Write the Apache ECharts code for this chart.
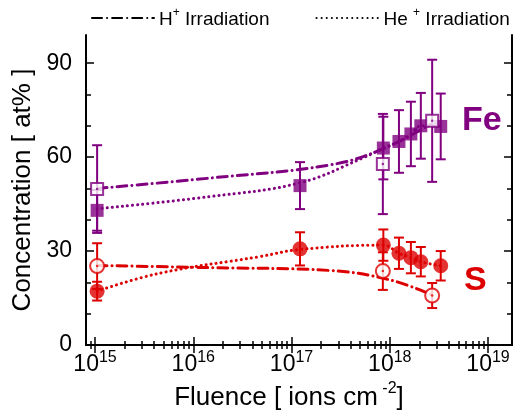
<!DOCTYPE html>
<html>
<head>
<meta charset="utf-8">
<script src="https://cdn.jsdelivr.net/npm/echarts@6/dist/echarts.min.js"></script>
<style>
  html, body { margin: 0; padding: 0; background: #fff; }
  #chart { width: 517px; height: 419px; }
</style>
</head>
<body>
<div id="chart"></div>
<script>
// decades shown on the x axis (exponents of 10)
const decades = [15, 16, 17, 18, 19]
const yTicks = [0, 30, 60, 90]
const yMinorTicks = [10, 20, 40, 50, 70, 80]

// Fe, H+ irradiation (open squares)
const feHFluence = [1.05e15, 8.5e17, 2.7e18]
const feHConc = [49.8, 57.8, 71.6]
const feHErr = [14, 16, 19.5]
// Fe, He+ irradiation (filled squares)
const feHeFluence = [1.05e15, 1.22e17, 8.6e17, 1.24e18, 1.64e18, 2.07e18, 3.3e18]
const feHeConc = [43, 50.9, 62.9, 65, 67.4, 70, 69.8]
const feHeErr = [6.5, 7.5, 10, 10, 10.3, 10.5, 10.5]
// S, H+ irradiation (open circles)
const sHFluence = [1.05e15, 8.5e17, 2.7e18]
const sHConc = [25.2, 23.6, 15.8]
const sHErr = [7.3, 6, 4]
// S, He+ irradiation (filled circles)
const sHeFluence = [1.05e15, 1.22e17, 8.6e17, 1.24e18, 1.64e18, 2.07e18, 3.3e18]
const sHeConc = [17.2, 30.7, 31.9, 29.3, 27.9, 26.6, 25.3]
const sHeErr = [3, 5.3, 5, 5, 5, 4.7, 4.7]

// guide curves drawn through the points
const feHCurveX = [1.05e15, 1.48e16, 2.45e17, 8.5e17, 2.7e18]
const feHCurveY = [50, 53.3, 57.5, 62.6, 70.8]
const feHeCurveX = [1.05e15, 1.48e16, 1.22e17, 5.3e17, 8.6e17, 1.24e18, 1.64e18, 2.07e18, 3.3e18]
const feHeCurveY = [43.5, 47.4, 51.8, 59.7, 62.9, 65, 67.4, 70, 69.8]
const sHCurveX = [1.05e15, 1.48e16, 2.45e17, 1e18, 2.7e18]
const sHCurveY = [25.4, 24.7, 23.8, 20.8, 16]
const sHeCurveX = [1.05e15, 4.5e15, 4.7e16, 1.22e17, 8.6e17, 1.24e18, 1.64e18, 2.07e18, 3.3e18]
const sHeCurveY = [17.2, 22.9, 28.2, 30.5, 31.9, 29.3, 27.9, 26.6, 25.3]

const PURPLE = '#800080'
const RED = '#dd0000'
const FONT = 'Liberation Sans'

const xMin = 14.908
const xMax = 19.244

// minor ticks 2..9 x 10^n inside the range
const minorX = []
for (let n = 14; n <= 19; n++) {
  for (let k = 2; k <= 9; k++) {
    const v = Math.log10(k) + n
    if (v > xMin && v < xMax) minorX.push(v)
  }
}

const pts = (xs, ys) => xs.map((x, i) => [Math.log10(x), ys[i]])
const errPts = (xs, ys, es) => xs.map((x, i) => [Math.log10(x), ys[i], es[i]])

function errorBar(color) {
  return function (params, api) {
    const x = api.value(0)
    const y = api.value(1)
    const e = api.value(2)
    const hi = api.coord([x, y + e])
    const lo = api.coord([x, y - e])
    const w = 5
    const style = { stroke: color, lineWidth: 2 }
    return {
      type: 'group',
      children: [
        { type: 'line', shape: { x1: hi[0], y1: hi[1], x2: lo[0], y2: lo[1] }, style },
        { type: 'line', shape: { x1: hi[0] - w, y1: hi[1], x2: hi[0] + w, y2: hi[1] }, style },
        { type: 'line', shape: { x1: lo[0] - w, y1: lo[1], x2: lo[0] + w, y2: lo[1] }, style }
      ]
    }
  }
}

const dashDot = [10, 5, 0.1, 5]
const dotted = [0.1, 5]

function curve(name, data, color, dash) {
  return {
    name: name,
    type: 'line',
    data: data,
    smooth: 0.4,
    symbol: 'none',
    lineStyle: { color: color, width: 3, type: dash, cap: 'round' },
    z: 2
  }
}

function bars(data, color) {
  return {
    type: 'custom',
    renderItem: errorBar(color),
    data: data,
    encode: { x: 0, y: 1 },
    z: 3
  }
}

function marks(data, symbol, size, color, open) {
  return {
    type: 'scatter',
    data: data,
    symbol: symbol,
    symbolSize: size,
    itemStyle: open
      ? { color: '#fff', borderColor: color, borderWidth: 2 }
      : { color: color },
    z: 4
  }
}

function centerDots(data, color) {
  return {
    type: 'scatter',
    data: data,
    symbol: 'circle',
    symbolSize: 2.5,
    itemStyle: { color: color },
    z: 5
  }
}

const chart = echarts.init(document.getElementById('chart'))

const axisLineStyle = { color: '#000', width: 2 }
const supRich = {
  b: { fontSize: 23, fontFamily: FONT, color: '#000', lineHeight: 26, verticalAlign: 'bottom' },
  s: { fontSize: 16, fontFamily: FONT, color: '#000', lineHeight: 26, verticalAlign: 'top' }
}

function xAxis(position, major) {
  return {
    type: 'value',
    position: position,
    min: xMin,
    max: xMax,
    axisLine: { show: major, lineStyle: axisLineStyle },
    axisTick: {
      inside: true,
      length: major ? 8 : 4,
      lineStyle: { color: '#000', width: 1.5 },
      customValues: major ? decades : minorX
    },
    axisLabel: {
      show: major && position === 'bottom',
      customValues: decades,
      margin: 5,
      formatter: v => '{b|10}{s|' + Math.round(v) + '}',
      rich: supRich
    },
    splitLine: { show: false },
    name: major && position === 'bottom' ? '{n|Fluence [ ions cm}{s| -2}{n|]}' : '',
    nameLocation: 'middle',
    nameGap: 33,
    nameTextStyle: {
      padding: [0, 20, 0, 0],
      rich: {
        n: { fontSize: 26, fontFamily: FONT, color: '#000', lineHeight: 30, verticalAlign: 'bottom' },
        s: { fontSize: 16, fontFamily: FONT, color: '#000', lineHeight: 30, verticalAlign: 'top' }
      }
    }
  }
}

function yAxis(position, major) {
  return {
    type: 'value',
    position: position,
    min: 0,
    max: 99,
    axisLine: { show: major, lineStyle: axisLineStyle },
    axisTick: {
      inside: true,
      length: major ? 8 : 5,
      lineStyle: { color: '#000', width: 1.5 },
      customValues: major ? yTicks : yMinorTicks
    },
    axisLabel: {
      show: major && position === 'left',
      customValues: yTicks,
      margin: 14,
      fontSize: 23,
      fontFamily: FONT,
      color: '#000'
    },
    splitLine: { show: false },
    name: major && position === 'left' ? 'Concentration [ at% ]' : '',
    nameLocation: 'middle',
    nameGap: 50,
    nameRotate: 90,
    nameTextStyle: { fontSize: 26, fontFamily: FONT, color: '#000' }
  }
}

const option = {
  backgroundColor: '#fff',
  animation: false,
  grid: { left: 86, right: 5, top: 35, bottom: 74 },
  legend: {
    data: ['H+ Irradiation', 'He+ Irradiation'],
    left: 86,
    top: 2,
    itemWidth: 62,
    itemHeight: 14,
    itemGap: 46,
    itemStyle: { opacity: 0 },
    formatter: function (name) {
      return name === 'H+ Irradiation'
        ? '{n|H}{s|+}{n| Irradiation}'
        : '{n|He }{s|+}{n| Irradiation}'
    },
    textStyle: {
      rich: {
        n: { fontSize: 19, fontFamily: FONT, color: '#000', lineHeight: 22, verticalAlign: 'bottom' },
        s: { fontSize: 12, fontFamily: FONT, color: '#000', lineHeight: 22, verticalAlign: 'top' }
      }
    }
  },
  xAxis: [xAxis('bottom', true), xAxis('bottom', false), xAxis('top', true), xAxis('top', false)],
  yAxis: [yAxis('left', true), yAxis('left', false), yAxis('right', true), yAxis('right', false)],
  graphic: [
    {
      type: 'text', x: 462, y: 121,
      style: { text: 'Fe', font: 'bold 34px ' + FONT, fill: PURPLE, textVerticalAlign: 'middle', verticalAlign: 'middle' }
    },
    {
      type: 'text', x: 464, y: 281,
      style: { text: 'S', font: 'bold 34px ' + FONT, fill: RED, textVerticalAlign: 'middle', verticalAlign: 'middle' }
    }
  ],
  series: [
    // legend entries
    { name: 'H+ Irradiation', type: 'line', data: [], symbol: 'none', itemStyle: { color: '#000' }, lineStyle: { color: '#000', width: 3, type: dashDot, cap: 'round' } },
    { name: 'He+ Irradiation', type: 'line', data: [], symbol: 'none', itemStyle: { color: '#000' }, lineStyle: { color: '#000', width: 3, type: dotted, cap: 'round' } },

    curve('feH', pts(feHCurveX, feHCurveY), PURPLE, dashDot),
    curve('feHe', pts(feHeCurveX, feHeCurveY), PURPLE, dotted),
    curve('sH', pts(sHCurveX, sHCurveY), RED, dashDot),
    curve('sHe', pts(sHeCurveX, sHeCurveY), RED, dotted),

    bars(errPts(feHeFluence, feHeConc, feHeErr), PURPLE),
    bars(errPts(feHFluence, feHConc, feHErr), PURPLE),
    bars(errPts(sHeFluence, sHeConc, sHeErr), RED),
    bars(errPts(sHFluence, sHConc, sHErr), RED),

    marks(pts(feHeFluence, feHeConc), 'rect', 13, PURPLE, false),
    marks(pts(feHFluence, feHConc), 'rect', 12, PURPLE, true),
    marks(pts(sHeFluence, sHeConc), 'circle', 15, RED, false),
    marks(pts(sHFluence, sHConc), 'circle', 14, RED, true),

    centerDots(pts(feHFluence, feHConc), PURPLE),
    centerDots(pts(sHFluence, sHConc), RED)
  ]
}

chart.setOption(option)
</script>
</body>
</html>
